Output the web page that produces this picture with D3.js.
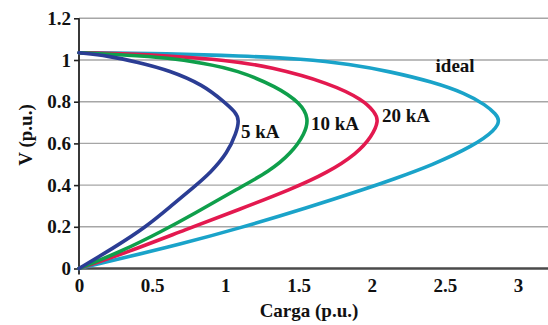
<!DOCTYPE html>
<html>
<head>
<meta charset="utf-8">
<script src="https://cdn.jsdelivr.net/npm/d3@7"></script>
<style>
  body { margin: 0; background: #fff; }
  svg { display: block; }
  text { font-family: "Liberation Serif", "Times New Roman", serif; font-weight: bold; fill: #111; }
</style>
</head>
<body>
<div class="main"></div>
<script>
////Data: [Carga, V]
const ideal = [[0, 1.035], [0.62, 1.03], [1.1, 1.02], [1.53, 1.005], [1.85, 0.98], [2.13, 0.944],
  [2.415, 0.895], [2.64, 0.84], [2.78, 0.784], [2.85, 0.74], [2.875, 0.71], [2.845, 0.664], [2.7, 0.59],
  [2.415, 0.496], [2.13, 0.424], [2.0, 0.392], [1.55, 0.289], [1.094, 0.193], [0.684, 0.115],
  [0.342, 0.057], [0, 0]];
const ka20 = [[0, 1.035], [0.3, 1.03], [0.62, 1.02], [1.0, 1.0], [1.306, 0.968], [1.716, 0.888],
  [1.943, 0.808], [2.02, 0.75], [2.05, 0.71], [2.0, 0.632], [1.9, 0.552], [1.7, 0.46],
  [1.45, 0.38], [1.094, 0.283], [0.73, 0.187], [0.34, 0.08], [0, 0]];
const ka10 = [[0, 1.035], [0.3, 1.025], [0.62, 1.01], [0.85, 0.985], [1.078, 0.952], [1.351, 0.872],
  [1.515, 0.792], [1.57, 0.72], [1.545, 0.648], [1.45, 0.552], [1.3, 0.465], [1.09, 0.385],
  [0.78, 0.26], [0.57, 0.18], [0.3, 0.085], [0, 0]];
const ka5 = [[0, 1.035], [0.2, 1.02], [0.4, 0.99], [0.62, 0.95], [0.85, 0.88], [0.99, 0.80],
  [1.07, 0.75], [1.095, 0.712], [1.075, 0.65], [1.015, 0.555], [0.9, 0.46], [0.775, 0.385],
  [0.63, 0.3], [0.46, 0.2], [0.24, 0.1], [0, 0]];

const seriesNames = ['ideal', '20 kA', '10 kA', '5 kA'];
const seriesColors = ['#1aa3c9', '#e3194f', '#0f9f4b', '#2b3d94'];
const labelPos = [[2.57, 0.944], [2.07, 0.704], [1.585, 0.664], [1.107, 0.624]];

const xTicks = [0, 0.5, 1, 1.5, 2, 2.5, 3];
const yTicks = [0, 0.2, 0.4, 0.6, 0.8, 1, 1.2];

////Layout
const width = 548;
const height = 325;
const plotLeft = 79;
const plotRight = 547.3;
const plotTop = 18.3;
const plotBottom = 268.5;

const svg = d3.select('.main').append('svg')
  .attr('width', width)
  .attr('height', height);

const xScale = d3.scaleLinear().domain([0, 3.2]).range([plotLeft, plotRight]);
const yScale = d3.scaleLinear().domain([0, 1.2]).range([plotBottom, plotTop]);

////Gridlines
svg.append('g')
  .selectAll('line')
  .data(yTicks.filter(d => d > 0))
  .enter()
  .append('line')
  .attr('x1', plotLeft)
  .attr('x2', width)
  .attr('y1', d => yScale(d))
  .attr('y2', d => yScale(d))
  .attr('stroke', '#a6a6a6')
  .attr('stroke-width', 1.4);

////Axes
const yAxis = d3.axisLeft(yScale)
  .tickValues(yTicks)
  .tickFormat(d3.format('~g'))
  .tickSize(5)
  .tickPadding(3);

const gy = svg.append('g')
  .attr('id', 'y-axis')
  .attr('transform', `translate(${plotLeft}, 0)`)
  .call(yAxis);
gy.select('.domain').remove();
gy.selectAll('line').attr('stroke', '#222').attr('stroke-width', 1.6);
gy.selectAll('text')
  .attr('font-size', 19)
  .attr('font-family', '"Liberation Serif", serif')
  .attr('font-weight', 'bold')
  .attr('fill', '#111');

svg.append('line')
  .attr('x1', plotLeft).attr('x2', plotLeft)
  .attr('y1', plotTop).attr('y2', plotBottom + 6)
  .attr('stroke', '#222')
  .attr('stroke-width', 1.8);

const xAxis = d3.axisBottom(xScale)
  .tickValues(xTicks)
  .tickFormat(d3.format('~g'))
  .tickSize(0)
  .tickPadding(10);

const gx = svg.append('g')
  .attr('id', 'x-axis')
  .attr('transform', `translate(0, ${plotBottom})`)
  .call(xAxis);
gx.select('.domain').remove();
gx.selectAll('text')
  .attr('font-size', 19)
  .attr('font-family', '"Liberation Serif", serif')
  .attr('font-weight', 'bold')
  .attr('fill', '#111');

svg.append('line')
  .attr('x1', plotLeft).attr('x2', width)
  .attr('y1', plotBottom).attr('y2', plotBottom)
  .attr('stroke', '#4a4a4a')
  .attr('stroke-width', 2.4);

////Curves (smoothed through the read points)
const line = d3.line()
  .x(d => xScale(d[0]))
  .y(d => yScale(d[1]))
  .curve(d3.curveBasis);

svg.append('g')
  .selectAll('path')
  .data([ideal, ka20, ka10, ka5])
  .enter()
  .append('path')
  .attr('d', line)
  .attr('fill', 'none')
  .attr('stroke', (d, i) => seriesColors[i])
  .attr('stroke-width', 3.6)
  .attr('stroke-linecap', 'round')
  .attr('stroke-linejoin', 'round');

////Curve labels
svg.append('g')
  .selectAll('text')
  .data(seriesNames)
  .enter()
  .append('text')
  .attr('x', (d, i) => xScale(labelPos[i][0]))
  .attr('y', (d, i) => yScale(labelPos[i][1]))
  .attr('text-anchor', (d, i) => i === 0 ? 'middle' : 'start')
  .attr('font-size', 19)
  .text(d => d);

////Axis titles
svg.append('text')
  .attr('x', 309)
  .attr('y', 317)
  .attr('text-anchor', 'middle')
  .attr('font-size', 19)
  .text('Carga (p.u.)');

svg.append('text')
  .attr('transform', 'translate(32, 135) rotate(-90)')
  .attr('text-anchor', 'middle')
  .attr('font-size', 19)
  .text('V (p.u.)');
</script>
</body>
</html>
